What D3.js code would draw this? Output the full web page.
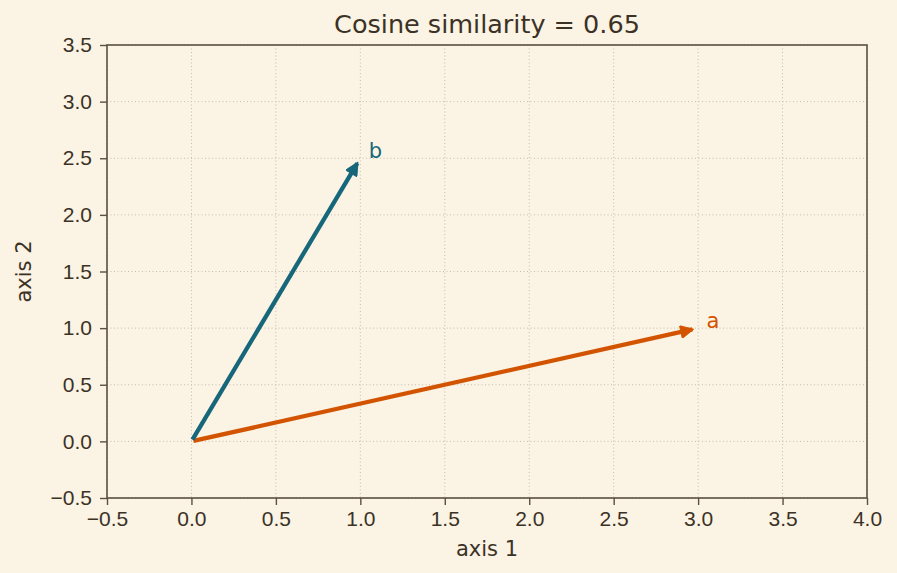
<!DOCTYPE html>
<html>
<head>
<meta charset="utf-8">
<script src="https://cdn.jsdelivr.net/npm/d3@7"></script>
<style>
    body { margin: 0; background: #fbf3e4; }
    svg { display: block; font-family: "DejaVu Sans", sans-serif; }
    .tick text { fill: #3b3226; }
</style>
</head>
<body>
<svg id="chart"></svg>
<script>
/*global d3*/

// vectors
var vectorNames = ["a", "b"];
var vectorX = [3, 1];
var vectorY = [1, 2.5];
var vectorColors = ["#d35400", "#17677a"];

var xDomain = [-0.5, 4.0];
var yDomain = [-0.5, 3.5];
var xTicks = [-0.5, 0, 0.5, 1, 1.5, 2, 2.5, 3, 3.5, 4];
var yTicks = [-0.5, 0, 0.5, 1, 1.5, 2, 2.5, 3, 3.5];
var title = "Cosine similarity = 0.65";

var W = 897, H = 573;
var margin = {top: 45, right: 30, bottom: 75, left: 107};
var width = W - margin.left - margin.right;
var height = H - margin.top - margin.bottom;

var svg = d3.select("#chart").attr("width", W).attr("height", H);
svg.append("rect").attr("width", W).attr("height", H).attr("fill", "#fbf3e4");

var x = d3.scaleLinear().domain(xDomain).range([0, width]);
var y = d3.scaleLinear().domain(yDomain).range([height, 0]);

var root = svg.append("g")
    .attr("transform", "translate(" + margin.left + "," + margin.top + ")");

var ink = "#3b3226", spine = "#5b5042", gridCol = "#c4bcae";

// grid
root.append("g").selectAll("line").data(xTicks).enter().append("line")
    .attr("x1", function (d) { return x(d); }).attr("x2", function (d) { return x(d); })
    .attr("y1", 0).attr("y2", height)
    .attr("stroke", gridCol).attr("stroke-width", 1).attr("stroke-dasharray", "1,2.5");
root.append("g").selectAll("line").data(yTicks).enter().append("line")
    .attr("y1", function (d) { return y(d); }).attr("y2", function (d) { return y(d); })
    .attr("x1", 0).attr("x2", width)
    .attr("stroke", gridCol).attr("stroke-width", 1).attr("stroke-dasharray", "1,2.5");

// axes
var fmt = function (d) { return d3.format(".1f")(d).replace("-", "\u2212"); };
var gx = root.append("g")
    .attr("transform", "translate(0," + height + ")")
    .call(d3.axisBottom(x).tickValues(xTicks).tickFormat(fmt).tickSize(7).tickPadding(6));
var gy = root.append("g")
    .call(d3.axisLeft(y).tickValues(yTicks).tickFormat(fmt).tickSize(7).tickPadding(8));
[gx, gy].forEach(function (g) {
    g.select(".domain").remove();
    g.selectAll(".tick line").attr("stroke", spine).attr("stroke-width", 1.4);
    g.selectAll(".tick text").attr("font-size", 21).attr("fill", ink);
});

// spines
root.append("rect")
    .attr("width", width).attr("height", height)
    .attr("fill", "none").attr("stroke", spine).attr("stroke-width", 1.6);

// arrow heads
var defs = svg.append("defs");
vectorNames.forEach(function (name, i) {
    defs.append("marker")
        .attr("id", "head-" + name)
        .attr("viewBox", "0 0 10 10")
        .attr("refX", 9).attr("refY", 5)
        .attr("markerWidth", 3.6).attr("markerHeight", 3.0)
        .attr("markerUnits", "strokeWidth")
        .attr("orient", "auto")
        .append("path")
        .attr("d", "M0,0 L10,5 L0,10 Z")
        .attr("fill", vectorColors[i])
        .attr("stroke", vectorColors[i])
        .attr("stroke-width", 0.8)
        .attr("stroke-linejoin", "round");
});

var data = vectorNames.map(function (name, i) {
    return {name: name, x: vectorX[i], y: vectorY[i], color: vectorColors[i]};
});

function shrink(x0, y0, x1, y1, a, b) {
    var dx = x1 - x0, dy = y1 - y0, l = Math.sqrt(dx * dx + dy * dy);
    return [x0 + dx / l * a, y0 + dy / l * a, x1 - dx / l * b, y1 - dy / l * b];
}

root.selectAll("line.vec")
    .data(data)
    .enter()
    .append("line")
    .attr("class", "vec")
    .each(function (d) {
        var p = shrink(x(0), y(0), x(d.x), y(d.y), 2, 6);
        d3.select(this)
            .attr("x1", p[0]).attr("y1", p[1]).attr("x2", p[2]).attr("y2", p[3]);
    })
    .attr("stroke", function (d) { return d.color; })
    .attr("stroke-width", 4.3)
    .attr("marker-end", function (d) { return "url(#head-" + d.name + ")"; });

root.selectAll("text.lbl")
    .data(data)
    .enter()
    .append("text")
    .attr("class", "lbl")
    .attr("x", function (d) { return x(d.x + 0.05); })
    .attr("y", function (d) { return y(d.y); })
    .attr("font-size", 21)
    .attr("fill", function (d) { return d.color; })
    .text(function (d) { return d.name; });

// titles
svg.append("text")
    .attr("x", margin.left + width / 2).attr("y", 33)
    .attr("text-anchor", "middle").attr("font-size", 25.5).attr("fill", ink)
    .text(title);
svg.append("text")
    .attr("x", margin.left + width / 2).attr("y", 556)
    .attr("text-anchor", "middle").attr("font-size", 21).attr("fill", ink)
    .text("axis 1");
svg.append("text")
    .attr("transform", "translate(31," + (margin.top + height / 2) + ") rotate(-90)")
    .attr("text-anchor", "middle").attr("font-size", 21).attr("fill", ink)
    .text("axis 2");
</script>
</body>
</html>
